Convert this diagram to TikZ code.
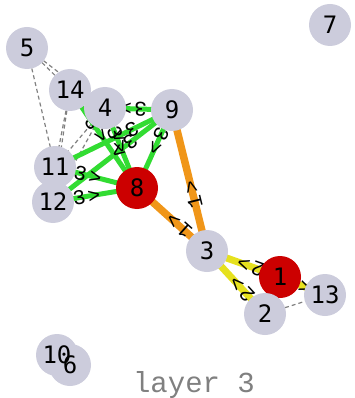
\documentclass[tikz,border=0pt]{standalone}
\usepackage{fontspec}
\usetikzlibrary{calc}
\newfontfamily\nodefont{DejaVu Sans Mono}
\newfontfamily\labfont{Liberation Mono}
\definecolor{ngray}{RGB}{204,204,220}
\definecolor{nred}{RGB}{204,0,0}
\definecolor{egreen}{RGB}{50,220,50}
\definecolor{eorange}{RGB}{240,150,25}
\definecolor{eyellow}{RGB}{230,225,30}
\definecolor{dgray}{RGB}{128,128,128}
\pgfdeclarelayer{edgelayer}
\pgfdeclarelayer{elabellayer}
\pgfsetlayers{edgelayer,elabellayer,main}
\newcommand\elab[5][0.4]{%
  \path let \p1=($(#4.center)-(#3.center)$), \n1={atan2(\y1,\x1)} in
    node[elabel,rotate=\n1] (#2) at ($(#3.center)!#1!(#4.center)$) {#5\kern2.5pt>};}
\begin{document}
\begin{tikzpicture}[x=1pt,y=-1pt,
  vtx/.style={circle,fill=ngray,minimum size=42pt,inner sep=0pt},
  redvtx/.style={vtx,fill=nred},
  vtext/.style={font=\nodefont\fontsize{24}{24}\selectfont,text=black,inner sep=0pt},
  elabel/.style={font=\labfont\fontsize{21}{21}\selectfont,text=black,inner sep=0pt},
  greenedge/.style={draw=egreen,line width=5pt},
  orangeedge/.style={draw=eorange,line width=7.5pt},
  yellowedge/.style={draw=eyellow,line width=7pt},
  dashedge/.style={draw=dgray,line width=1.2pt,dash pattern=on 4pt off 3pt}]
\useasboundingbox (0,0) rectangle (355,398);
% node circles
\node[redvtx] (n1) at (280,277) {};
\node[vtx] (n2) at (265,314) {};
\node[vtx] (n3) at (207,251) {};
\node[vtx] (n5) at (27,48) {};
\node[vtx] (n7) at (330,25) {};
\node[redvtx] (n8) at (137,188) {};
\node[vtx] (n9) at (172,110) {};
\node[vtx] (n10) at (57,355) {};
\node[vtx] (n6) at (70,365) {};
\node[vtx] (n11) at (55,167) {};
\node[vtx] (n12) at (53,202) {};
\node[vtx] (n13) at (325,295) {};
\node[vtx] (n14) at (70,90) {};
\node[vtx] (n4) at (105,108) {};
% node texts
\foreach \k in {1,2,3,4,5,6,7,8,9,10,11,12,13,14}{
  \node[vtext] (t\k) at (n\k) {\k};
}
% edges
\begin{pgfonlayer}{edgelayer}
\draw[dashedge] (n5.center) -- (n14.center);
\draw[dashedge] (n5.center) -- (n4.center);
\draw[dashedge] (n5.center) -- (n11.center);
\draw[dashedge] (n14.center) -- (n11.center);
\draw[dashedge] (n14.center) -- (n12.center);
\draw[dashedge] (n4.center) -- (n11.center);
\draw[dashedge] (n4.center) -- (n12.center);
\draw[dashedge] (n2.center) -- (n13.center);
\draw[greenedge] (n9.center) -- (n4.center);
\draw[greenedge] (n9.center) -- (n8.center);
\draw[greenedge] (n9.center) -- (n11.center);
\draw[greenedge] (n9.center) -- (n12.center);
\draw[greenedge] (n11.center) -- (n8.center);
\draw[greenedge] (n12.center) -- (n8.center);
\draw[greenedge] (n14.center) -- (n8.center);
\draw[greenedge] (n4.center) -- (n8.center);
\draw[orangeedge] (n3.center) -- (n9.center);
\draw[orangeedge] (n3.center) -- (n8.center);
\draw[yellowedge] (n1.center) -- (n3.center);
\draw[yellowedge] (n2.center) -- (n3.center);
\draw[yellowedge] (n1.center) -- (n13.center);
\end{pgfonlayer}
% edge labels
\begin{pgfonlayer}{elabellayer}
\elab[0.58]{l9-4}{n9}{n4}{3}
\elab{l9-8}{n9}{n8}{3}
\elab{l9-11}{n9}{n11}{3}
\elab{l9-12}{n9}{n12}{3}
\elab{l11-8}{n11}{n8}{3}
\elab{l12-8}{n12}{n8}{3}
\elab{l14-8}{n14}{n8}{3}
\elab{l4-8}{n4}{n8}{3}
\elab{l3-9}{n3}{n9}{1}
\elab{l3-8}{n3}{n8}{1}
\elab{l1-3}{n1}{n3}{2}
\elab{l2-3}{n2}{n3}{2}
\elab{l1-13}{n1}{n13}{2}
\end{pgfonlayer}
\node[font=\labfont\fontsize{29}{29}\selectfont,text=dgray,anchor=base,inner sep=0pt] (title) at (194,392) {layer 3};
\end{tikzpicture}
\end{document}
